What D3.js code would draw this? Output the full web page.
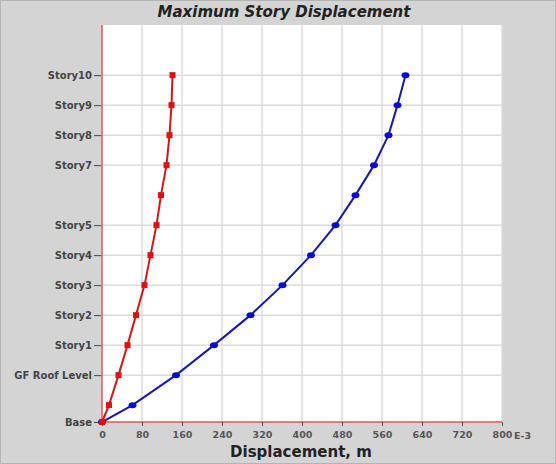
<!DOCTYPE html>
<html>
<head>
<meta charset="utf-8">
<script src="https://cdn.jsdelivr.net/npm/d3@7"></script>
<style>
  body { margin: 0; background: #d4d4d4; }
  svg { display: block; font-family: "DejaVu Sans", Verdana, sans-serif; }
</style>
</head>
<body>
<svg width="556" height="464"></svg>
<script>
// story levels (elevation in m), a few labels are hidden in the original
var levels = ["Base", "Plinth", "GF Roof Level", "Story1", "Story2", "Story3", "Story4",
              "Story5", "Story6", "Story7", "Story8", "Story9", "Story10"];
var elevations = [0, 1.8, 5.0, 8.2, 11.4, 14.6, 17.8, 21.0, 24.2, 27.4, 30.6, 33.8, 37.0];
var shownLabels = ["Base", "GF Roof Level", "Story1", "Story2", "Story3", "Story4",
                   "Story5", "Story7", "Story8", "Story9", "Story10"];

// displacement, E-3 m
var dispRed  = [0, 14, 33, 51, 68, 85, 97, 109, 118, 129, 135, 139, 141];
var dispBlue = [0, 61, 148, 224, 297, 361, 418, 467, 507, 544, 573, 591, 607];
var xTicks = [0, 80, 160, 240, 320, 400, 480, 560, 640, 720, 800];

var svg = d3.select("svg"),
    width = +svg.attr("width"),
    height = +svg.attr("height");

var pLeft = 102, pRight = 502, pTop = 25, pBottom = 422;
var font = "\"DejaVu Sans\", Verdana, sans-serif";

var x = d3.scaleLinear().domain([0, 800]).range([pLeft, pRight]);
var y = d3.scaleLinear().domain([0, 42.35]).range([pBottom, pTop]);

var elevOf = {};
levels.forEach((l, i) => elevOf[l] = elevations[i]);

// outer border
svg.append("rect")
    .attr("x", 0.5).attr("y", 0.5)
    .attr("width", width - 1).attr("height", height - 1)
    .attr("fill", "#d4d4d4")
    .attr("stroke", "#b4b4b4");

// title
svg.append("text")
    .attr("x", 284).attr("y", 17)
    .attr("text-anchor", "middle")
    .attr("font-size", 15)
    .attr("font-weight", "bold")
    .attr("font-style", "italic")
    .attr("fill", "#222")
    .text("Maximum Story Displacement");

// plot area
svg.append("rect")
    .attr("x", pLeft).attr("y", pTop)
    .attr("width", pRight - pLeft).attr("height", pBottom - pTop)
    .attr("fill", "#fff");

// grid
svg.append("g").selectAll("line")
    .data(xTicks.slice(1))
    .enter().append("line")
    .attr("x1", d => x(d)).attr("x2", d => x(d))
    .attr("y1", pTop).attr("y2", pBottom)
    .attr("stroke", "#dcdcdc").attr("stroke-width", 1.5);

svg.append("g").selectAll("line")
    .data(shownLabels.slice(1))
    .enter().append("line")
    .attr("x1", pLeft).attr("x2", pRight)
    .attr("y1", d => y(elevOf[d])).attr("y2", d => y(elevOf[d]))
    .attr("stroke", "#dcdcdc").attr("stroke-width", 1.5);

// y axis
var yAxis = svg.append("g")
    .attr("transform", "translate(" + pLeft + ",0)")
    .call(d3.axisLeft(y)
        .tickValues(shownLabels.map(l => elevOf[l]))
        .tickFormat((d, i) => shownLabels[i])
        .tickSize(7).tickPadding(3));
yAxis.select(".domain").attr("stroke", "#e05858").attr("stroke-width", 1.5)
    .attr("d", "M0," + pTop + "V" + pBottom);
yAxis.selectAll(".tick line").attr("stroke", "#444").attr("transform", "translate(-1,0)");
yAxis.selectAll(".tick text")
    .attr("font-size", 10).attr("font-weight", "bold").attr("fill", "#444")
    .attr("font-family", font);

// x axis
var xAxis = svg.append("g")
    .attr("transform", "translate(0," + pBottom + ")")
    .call(d3.axisBottom(x).tickValues(xTicks).tickSize(4).tickPadding(5));
xAxis.select(".domain").attr("stroke", "#e05858").attr("stroke-width", 1.5)
    .attr("d", "M" + pLeft + ",0H" + pRight);
xAxis.selectAll(".tick line").attr("stroke", "#555");
xAxis.selectAll(".tick text")
    .attr("font-size", 9.5).attr("font-weight", "bold").attr("fill", "#555")
    .attr("font-family", font);

svg.append("text")
    .attr("x", pRight + 12).attr("y", pBottom + 17)
    .attr("font-size", 9.5).attr("font-weight", "bold").attr("fill", "#555")
    .text("E-3");

svg.append("text")
    .attr("x", 301).attr("y", 457)
    .attr("text-anchor", "middle")
    .attr("font-size", 15).attr("font-weight", "bold").attr("fill", "#222")
    .text("Displacement, m");

// series
var line = d3.line()
    .x(d => x(d[0]))
    .y(d => y(d[1]));

var blueData = dispBlue.map((v, i) => [v, elevations[i]]);
var redData = dispRed.map((v, i) => [v, elevations[i]]);

svg.append("path")
    .datum(blueData)
    .attr("fill", "none")
    .attr("stroke", "#1818b0").attr("stroke-width", 2)
    .attr("d", line);
svg.append("g").selectAll("ellipse")
    .data(blueData)
    .enter().append("ellipse")
    .attr("cx", d => x(d[0])).attr("cy", d => y(d[1]))
    .attr("rx", 4).attr("ry", 3)
    .attr("fill", "#0a0ad0");

svg.append("path")
    .datum(redData)
    .attr("fill", "none")
    .attr("stroke", "#d41818").attr("stroke-width", 2)
    .attr("d", line);
svg.append("g").selectAll("rect")
    .data(redData)
    .enter().append("rect")
    .attr("x", d => x(d[0]) - 3).attr("y", d => y(d[1]) - 3)
    .attr("width", 6).attr("height", 6)
    .attr("fill", "#e01010");
</script>
</body>
</html>
